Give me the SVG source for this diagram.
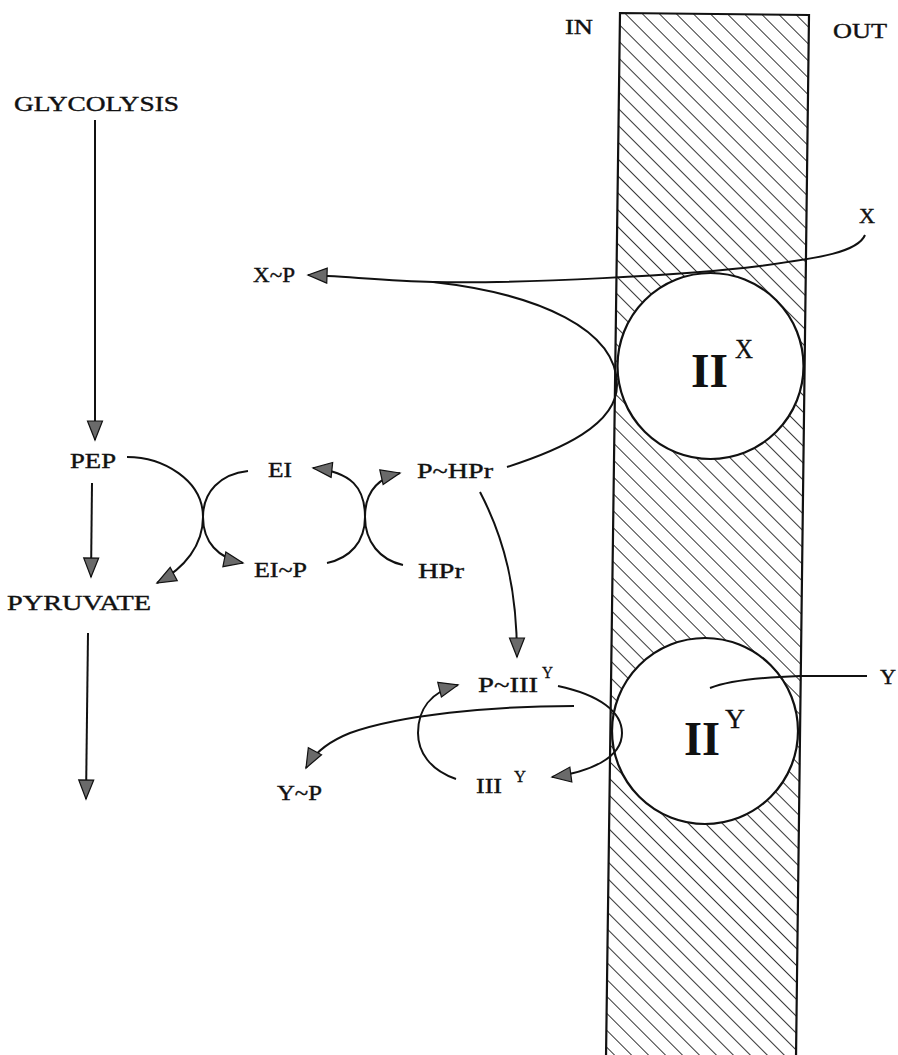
<svg xmlns="http://www.w3.org/2000/svg" width="898" height="1055" viewBox="0 0 898 1055">
<style>
.t{font-family:"Liberation Serif","Times New Roman",serif;font-size:22px;fill:#111;stroke:#111;stroke-width:0.4;}
.sup{font-family:"Liberation Serif","Times New Roman",serif;font-size:16px;fill:#111;stroke:#111;stroke-width:0.3;}
.big{font-family:"Liberation Serif","Times New Roman",serif;font-size:48px;font-weight:bold;fill:#111;}
.bigsup{font-family:"Liberation Serif","Times New Roman",serif;font-size:28px;fill:#111;stroke:#111;stroke-width:0.3;}
.c{fill:none;stroke:#111;stroke-width:2;}
.arr{marker-end:url(#ah);}
.cell{fill:#fff;stroke:#111;stroke-width:2.2;}
</style>
<defs>
<pattern id="hatch" width="12" height="12" patternUnits="userSpaceOnUse" patternTransform="rotate(-45)">
<line x1="0" y1="-1" x2="0" y2="13" stroke="#111" stroke-width="1.7"/>
</pattern>
<marker id="ah" markerUnits="userSpaceOnUse" markerWidth="22" markerHeight="18" refX="19" refY="8" orient="auto" overflow="visible">
<path d="M0,0.5 L19,8 L0,15.5 Z" fill="#6a6a6a" stroke="#111" stroke-width="1.2" stroke-linejoin="miter"/>
</marker>
</defs>
<rect width="898" height="1055" fill="#fff"/>

<g id="membrane">
<polygon points="620,13 809,15 796,1058 606,1058" fill="url(#hatch)" stroke="#111" stroke-width="2.2"/>
</g>

<g id="IIX">
<circle class="cell" cx="710.5" cy="366" r="93"/>
<text class="big" x="691" y="387" textLength="37" lengthAdjust="spacingAndGlyphs">II</text>
<text class="bigsup" x="735" y="358" textLength="18" lengthAdjust="spacingAndGlyphs">X</text>
</g>

<g id="IIY">
<circle class="cell" cx="705" cy="731" r="93"/>
<text class="big" x="684" y="755" textLength="36" lengthAdjust="spacingAndGlyphs">II</text>
<text class="bigsup" x="725" y="728" textLength="20" lengthAdjust="spacingAndGlyphs">Y</text>
</g>

<g id="IN"><text class="t" x="565" y="34" textLength="28" lengthAdjust="spacingAndGlyphs">IN</text></g>
<g id="OUT"><text class="t" x="833" y="38" textLength="54" lengthAdjust="spacingAndGlyphs">OUT</text></g>
<g id="GLYCOLYSIS"><text class="t" x="14" y="111" textLength="165" lengthAdjust="spacingAndGlyphs">GLYCOLYSIS</text></g>
<g id="X"><text class="t" x="859" y="223" textLength="16" lengthAdjust="spacingAndGlyphs">X</text></g>
<g id="XP"><text class="t" x="253" y="282" textLength="42" lengthAdjust="spacingAndGlyphs">X~P</text></g>
<g id="PEP"><text class="t" x="70" y="468" textLength="46" lengthAdjust="spacingAndGlyphs">PEP</text></g>
<g id="EI"><text class="t" x="268" y="477" textLength="24" lengthAdjust="spacingAndGlyphs">EI</text></g>
<g id="PHPr"><text class="t" x="417" y="478" textLength="76" lengthAdjust="spacingAndGlyphs">P~HPr</text></g>
<g id="EIP"><text class="t" x="254" y="577" textLength="53" lengthAdjust="spacingAndGlyphs">EI~P</text></g>
<g id="HPr"><text class="t" x="418" y="578" textLength="46" lengthAdjust="spacingAndGlyphs">HPr</text></g>
<g id="PYRUVATE"><text class="t" x="7" y="610" textLength="144" lengthAdjust="spacingAndGlyphs">PYRUVATE</text></g>
<g id="PIIIY">
<text class="t" x="478" y="692" textLength="60" lengthAdjust="spacingAndGlyphs">P~III</text>
<text class="sup" x="542" y="678" textLength="11" lengthAdjust="spacingAndGlyphs">Y</text>
</g>
<g id="Y"><text class="t" x="880" y="684" textLength="16" lengthAdjust="spacingAndGlyphs">Y</text></g>
<g id="YP"><text class="t" x="277" y="800" textLength="45" lengthAdjust="spacingAndGlyphs">Y~P</text></g>
<g id="IIIY">
<text class="t" x="476" y="793" textLength="26" lengthAdjust="spacingAndGlyphs">III</text>
<text class="sup" x="514" y="782" textLength="12" lengthAdjust="spacingAndGlyphs">Y</text>
</g>

<g id="connectors">
<path class="c arr" d="M95,120 L95,440"/>
<path class="c arr" d="M92,483 L91,577"/>
<path class="c arr" d="M88,633 L86,799"/>
<path class="c arr" d="M127,457 C163,457 203,480 203,517 C203,545 185,568 157,583"/>
<path class="c arr" d="M248,471 C220,474 203,492 203,517 C203,542 218,558 243,563"/>
<path class="c arr" d="M403,565 C380,560 365,542 365,517 C365,488 352,472 313,468"/>
<path class="c arr" d="M327,563 C350,558 365,542 365,517 C365,492 378,478 400,473"/>
<path class="c arr" d="M480,492 C505,540 517,590 517,657"/>
<path class="c arr" d="M865,235 C858,252 820,258 760,266 C690,275 520,284 433,282 C390,281 340,276 308,275"/>
<path class="c" d="M507,467 C560,450 617,425 617,385 C617,330 540,294 433,282"/>
<path class="c" d="M867,676 L800,676 C770,677 730,680 710,688"/>
<path class="c arr" d="M558,686 C600,695 622,712 622,733 C622,758 590,772 552,777"/>
<path class="c arr" d="M456,779 C430,770 418,752 418,733 C418,710 430,692 458,685"/>
<path class="c arr" d="M574,706 C490,706 400,715 350,733 C330,741 314,753 306,768"/>
</g>
</svg>
